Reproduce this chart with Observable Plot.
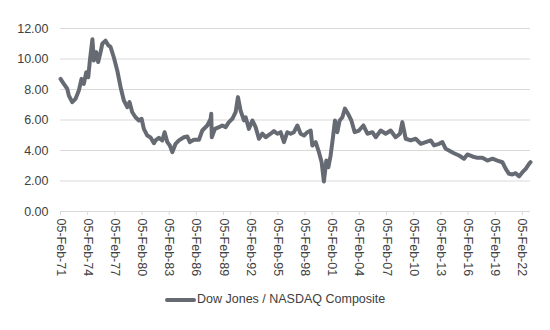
<!DOCTYPE html>
<html><head><meta charset="utf-8">
<script src="https://cdn.jsdelivr.net/npm/d3@7"></script>
<script src="https://cdn.jsdelivr.net/npm/@observablehq/plot@0.6"></script>
<style>
body{margin:0;background:#fff;font-family:Arial,"Liberation Sans",sans-serif;}
#chart svg{display:block;}
#legend{position:relative;height:45px;width:550px;}
#legend .sw{position:absolute;left:165px;top:12.5px;width:31px;height:4px;background:#666b73;border-radius:2px;}
#legend .lb{position:absolute;left:197px;top:6px;font-size:12.5px;line-height:16px;color:#404040;white-space:nowrap;}
</style></head><body>
<div id="chart"></div>
<div id="legend"><span class="sw"></span><span class="lb" id="lb"></span></div>
<script>
const seriesName = "Dow Jones / NASDAQ Composite";
// decimal years
const years = [1971.10,1971.46,1971.84,1972.02,1972.39,1972.76,1973.12,1973.42,1973.67,1973.94,1974.16,1974.34,1974.62,1974.78,1975.04,1975.26,1975.52,1975.71,1976.07,1976.37,1976.62,1976.99,1977.36,1977.73,1978.09,1978.47,1978.72,1979.02,1979.38,1979.75,1980.05,1980.30,1980.68,1981.04,1981.41,1981.59,1981.96,1982.33,1982.59,1982.89,1983.17,1983.44,1983.80,1984.17,1984.72,1985.10,1985.38,1985.82,1986.38,1986.75,1987.30,1987.67,1987.74,1987.80,1988.15,1988.59,1988.96,1989.33,1989.69,1990.07,1990.43,1990.69,1990.98,1991.35,1991.54,1991.90,1992.28,1992.64,1993.00,1993.38,1993.74,1994.30,1994.66,1995.04,1995.40,1995.77,1996.14,1996.51,1996.87,1997.25,1997.61,1997.98,1998.35,1998.72,1998.90,1999.27,1999.63,1999.93,2000.18,2000.45,2000.67,2000.92,2001.18,2001.40,2001.66,2001.92,2002.22,2002.50,2002.84,2003.21,2003.58,2004.05,2004.54,2004.98,2005.53,2005.90,2006.45,2007.00,2007.55,2008.10,2008.58,2008.84,2009.21,2009.76,2010.31,2010.87,2011.42,2011.97,2012.34,2012.89,2013.26,2013.63,2013.99,2014.54,2015.10,2015.65,2016.02,2016.58,2017.13,2017.68,2018.23,2018.79,2019.34,2019.89,2020.26,2020.62,2020.99,2021.36,2021.72,2022.10,2022.46,2022.83,2022.99];
const ratios = [8.70,8.37,8.05,7.60,7.17,7.39,7.93,8.70,8.37,9.13,8.80,9.90,11.30,9.90,10.45,9.80,10.45,11.00,11.20,10.90,10.80,10.10,9.25,8.15,7.28,6.84,7.17,6.51,6.18,5.97,6.08,5.42,4.98,4.85,4.48,4.66,4.83,4.66,5.20,4.55,4.33,3.89,4.44,4.66,4.87,4.92,4.55,4.70,4.70,5.31,5.64,6.08,6.41,4.87,5.42,5.53,5.64,5.53,5.86,6.08,6.51,7.50,6.62,5.97,6.18,5.42,5.97,5.53,4.77,5.10,4.87,5.10,5.27,5.10,5.20,4.55,5.20,5.10,5.20,5.64,5.10,4.98,5.20,5.31,4.33,4.55,3.89,3.23,1.97,3.34,2.90,3.67,4.87,5.97,5.20,5.97,6.18,6.75,6.41,5.97,5.20,5.31,5.64,5.10,5.20,4.87,5.31,5.10,5.31,4.87,5.10,5.86,4.77,4.66,4.77,4.44,4.55,4.66,4.33,4.44,4.55,4.11,4.00,3.82,3.67,3.46,3.74,3.61,3.52,3.52,3.34,3.46,3.34,3.23,2.80,2.47,2.43,2.51,2.30,2.58,2.80,3.13,3.23];
const tickYears = [1971,1974,1977,1980,1983,1986,1989,1992,1995,1998,2001,2004,2007,2010,2013,2016,2019,2022];
const yTicks = [0,2,4,6,8,10,12];
const months = ["Jan","Feb","Mar","Apr","May","Jun","Jul","Aug","Sep","Oct","Nov","Dec"];

const toDate = y => { const f = Math.floor(y); return new Date(Date.UTC(f,0,1) + (y - f) * 365.25 * 864e5); };
const data = years.map((y,i)=>({date:toDate(y), ratio:ratios[i]}));
const xTicks = tickYears.map(y=>new Date(Date.UTC(y,1,5)));
const fmt = d => String(d.getUTCDate()).padStart(2,"0") + "-" + months[d.getUTCMonth()] + "-" + String(d.getUTCFullYear()).slice(2);

const plot = Plot.plot({
  width:550, height:285,
  marginLeft:60, marginRight:20, marginTop:28, marginBottom:74,
  style:{fontFamily:"Arial, 'Liberation Sans', sans-serif", fontSize:"12.5px", color:"#404040", background:"#fff"},
  x:{type:"utc", domain:[new Date(Date.UTC(1971,1,5)), data[data.length-1].date], label:null},
  y:{domain:[0,12], label:null},
  marks:[
    Plot.gridY(yTicks,{stroke:"#d9d9d9", strokeOpacity:1, strokeWidth:1.2}),
    Plot.ruleY([0],{stroke:"#d9d9d9", strokeWidth:1.2}),
    Plot.axisY(yTicks,{tickSize:0, tickPadding:12, tickFormat:d=>d.toFixed(2), fill:"#404040", label:null}),
    Plot.axisX(xTicks,{tickSize:4, tickPadding:3, tickFormat:fmt, tickRotate:90, stroke:"#d9d9d9", fill:"#404040", label:null}),
    Plot.lineY(data,{x:"date", y:"ratio", stroke:"#666b73", strokeWidth:4, strokeLinejoin:"round", strokeLinecap:"round"})
  ]
});
document.getElementById("chart").appendChild(plot);
document.getElementById("lb").textContent = seriesName;
</script>
</body></html>
